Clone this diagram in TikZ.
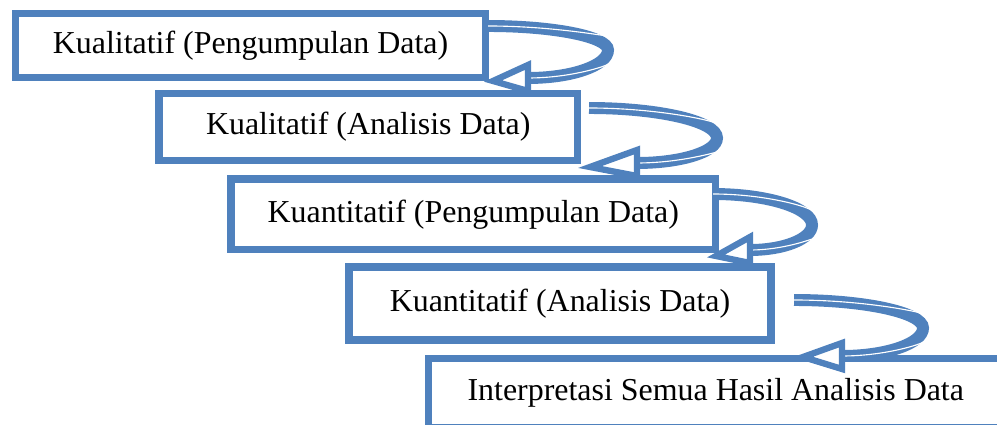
\documentclass[tikz,border=0pt]{standalone}
\usepackage{fontspec}
\setmainfont{Liberation Serif}
\usepackage{tikz}
\usetikzlibrary{
  calc,
}
\definecolor{wordblue}{HTML}{4F81BD}

\begin{document}
\begin{tikzpicture}[
  x=0.025cm, y=-0.025cm,
  font=\fontsize{22.7pt}{27pt}\selectfont,
  stage/.style={draw=wordblue, line width=5pt, inner sep=0pt, outer sep=0pt, fill=white},
  band/.style={draw=wordblue, line width=8.5pt},
  gleam/.style={draw=white, line width=0.8pt},
  head/.style={draw=wordblue, fill=white, line width=4.5pt, line join=miter},
]
  % 1 unit = 1 px, y runs downwards
  \def\px{0.025cm}
  \useasboundingbox (0,0) rectangle (997,425);
  \clip (0,0) rectangle (997,425);

  % Stages
  \node[stage, minimum width={470*\px}, minimum height={64*\px}] (k1)
    at (250.5,45.5) {Kualitatif (Pengumpulan Data)};
  \node[stage, minimum width={418.5*\px}, minimum height={67*\px}] (k2)
    at (368.25,127) {Kualitatif (Analisis Data)};
  \node[stage, minimum width={484.5*\px}, minimum height={70.5*\px}] (k3)
    at (473.25,214.25) {Kuantitatif (Pengumpulan Data)};
  \node[stage, minimum width={422*\px}, minimum height={73*\px}] (k4)
    at (560,303.5) {Kuantitatif (Analisis Data)};
  \node[stage, minimum width={574.5*\px}, minimum height={69.5*\px}] (k5)
    at (715.75,393.25) {Interpretasi Semua Hasil Analisis Data};

  % Curved arrows: start, turn, back of head, tip
  \coordinate (s1) at ($(k1.north east)+(2.5,12.5)$);
  \coordinate (r1) at (608,50);
  \coordinate (b1) at (528,78);
  \coordinate (t1) at ($(k2.north east)+(-84.5,-12.5)$);

  \coordinate (s2) at ($(k2.north east)+(11.5,14.5)$);
  \coordinate (r2) at (717,138);
  \coordinate (b2) at (637,163);
  \coordinate (t2) at ($(k3.north east)+(-125.5,-12)$);

  \coordinate (s3) at ($(k3.north east)+(-2.5,15)$);
  \coordinate (r3) at (812,225);
  \coordinate (b3) at (750,250);
  \coordinate (t3) at ($(k4.north east)+(-55,-11)$);

  \coordinate (s4) at ($(k4.north east)+(23,33)$);
  \coordinate (r4) at (923,328);
  \coordinate (b4) at (842,356);
  \coordinate (t4) at ($(k5.north west)+(374.5,-1.5)$);

  \foreach \i in {1,...,4} {
    \draw[band] (s\i)
      .. controls ($(s\i)!0.55!(s\i -| r\i)$) and ($(r\i)!0.55!(r\i |- s\i)$) .. (r\i)
      .. controls ($(r\i)!0.55!(r\i |- b\i)$) and ($(b\i)!0.55!(b\i -| r\i)$) .. (b\i);
    \draw[gleam, shorten >=10pt] (s\i)
      .. controls ($(s\i)!0.55!(s\i -| r\i)$) and ($(r\i)!0.55!(r\i |- s\i)$) .. (r\i);
    \draw[gleam, shorten <=10pt] (r\i)
      .. controls ($(r\i)!0.55!(r\i |- b\i)$) and ($(b\i)!0.55!(b\i -| r\i)$) .. (b\i);
    \draw[head] (t\i) -- ($(b\i)+(0,-13)$) -- ($(b\i)+(0,13)$) -- cycle;
  }

\end{tikzpicture}
\end{document}
